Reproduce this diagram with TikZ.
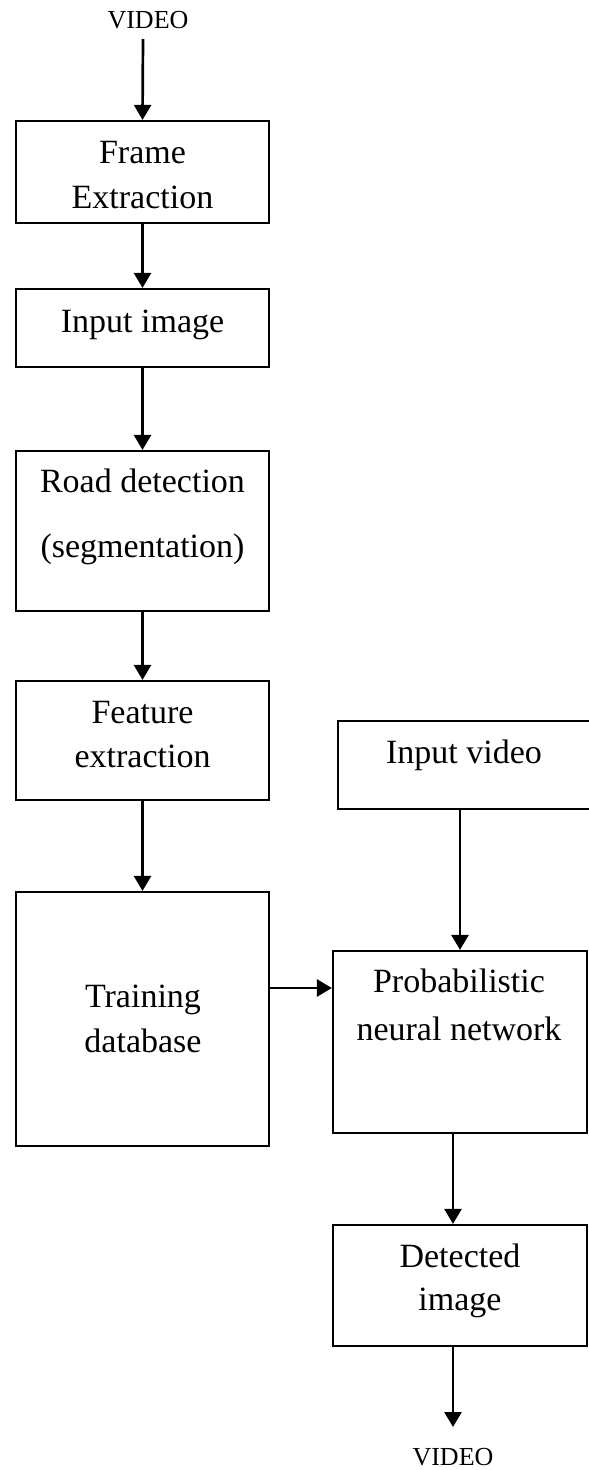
\documentclass[tikz,border=0pt]{standalone}
\usepackage{fontspec}
\setmainfont{Liberation Serif}
\usetikzlibrary{arrows.meta}
\begin{document}
\begin{tikzpicture}[x=1pt,y=-1pt,
  box/.style={draw,line width=2.2pt,rectangle,inner sep=0pt},
  txt/.style={anchor=base,inner sep=0pt,font=\fontsize{34}{40}\selectfont},
  smalltxt/.style={anchor=base,inner sep=0pt,font=\fontsize{26}{30}\selectfont},
  arr/.style={line width=2.7pt,-{Triangle[length=15pt,width=17pt]}}]
\useasboundingbox (0,0) rectangle (589,1470);
% boxes
\node[box,minimum width=253pt,minimum height=102pt] (frame) at (142.5,172) {};
\node[box,minimum width=253pt,minimum height=78pt] (inimg) at (142.5,328) {};
\node[box,minimum width=253pt,minimum height=160pt] (road) at (142.5,531) {};
\node[box,minimum width=253pt,minimum height=119pt] (feat) at (142.5,740.5) {};
\node[box,minimum width=253pt,minimum height=254pt] (train) at (142.5,1019) {};
\node[box,minimum width=254pt,minimum height=88pt] (ivid) at (465,765) {};
\node[box,minimum width=254pt,minimum height=182pt] (pnn) at (460,1042) {};
\node[box,minimum width=254pt,minimum height=121pt] (det) at (460,1285.5) {};
% texts
\node[smalltxt] (vtop) at (148,28) {VIDEO};
\node[txt] (t1a) at (142.5,163) {Frame};
\node[txt] (t1b) at (142.5,208) {Extraction};
\node[txt] (t2) at (142.5,332) {Input image};
\node[txt] (t3a) at (142.5,492) {Road detection};
\node[txt] (t3b) at (142.5,557) {(segmentation)};
\node[txt] (t4a) at (142.5,723) {Feature};
\node[txt] (t4b) at (142.5,767) {extraction};
\node[txt] (t5a) at (143,1007) {Training};
\node[txt] (t5b) at (143,1052) {database};
\node[txt] (t6) at (464,763) {Input video};
\node[txt] (t7a) at (459,992) {Probabilistic};
\node[txt] (t7b) at (459,1040) {neural network};
\node[txt] (t8a) at (460,1267) {Detected};
\node[txt] (t8b) at (460,1310) {image};
\node[smalltxt] (vbot) at (453,1465) {VIDEO};
% connector helpers
\coordinate (vstart) at (143,39);
\coordinate (ay) at (0,988);
\coordinate (cx) at (453,0);
\coordinate (vend) at (453,1427);
% connectors
\draw[arr] (vstart) -- (frame.north);
\draw[arr] (frame.south) -- (inimg.north);
\draw[arr] (inimg.south) -- (road.north);
\draw[arr] (road.south) -- (feat.north);
\draw[arr] (feat.south) -- (train.north);
\draw[arr] (train.east |- ay) -- (pnn.west |- ay);
\draw[arr] (ivid.south -| pnn.north) -- (pnn.north);
\draw[arr] (pnn.south -| cx) -- (det.north -| cx);
\draw[arr] (det.south -| cx) -- (vend);
\end{tikzpicture}
\end{document}
